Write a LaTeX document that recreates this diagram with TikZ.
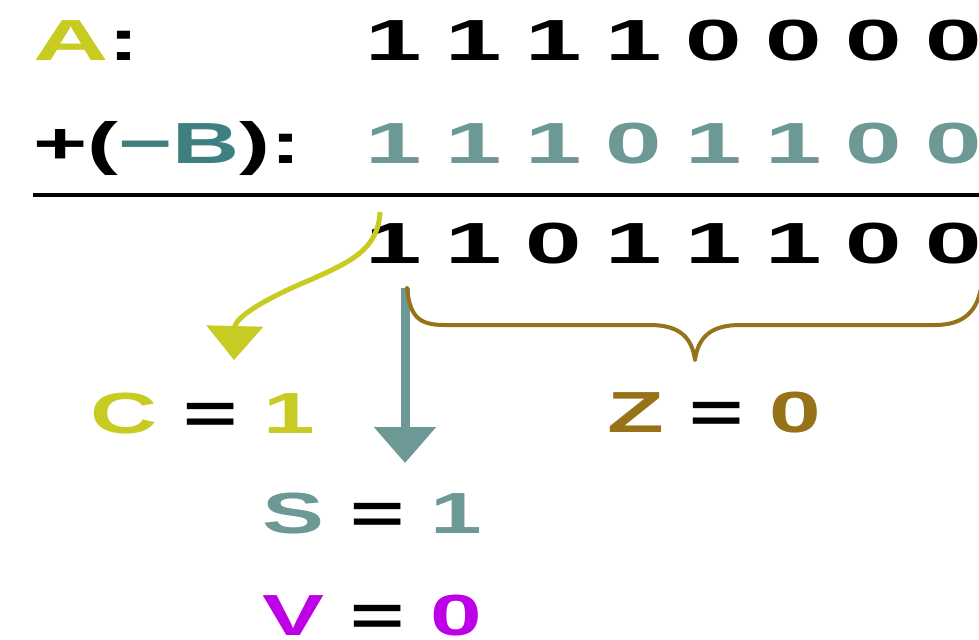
\documentclass[tikz,border=0pt]{standalone}
\usepackage{graphicx}
\usepackage{fontspec}
\setmainfont{Liberation Sans}
\usetikzlibrary{arrows.meta}
\definecolor{ygreen}{RGB}{200,204,34}
\definecolor{tealB}{RGB}{62,128,128}
\definecolor{tealD}{RGB}{108,152,150}
\definecolor{brownZ}{RGB}{150,115,25}
\definecolor{magV}{RGB}{190,0,230}
\newcommand{\wdig}[1]{\scalebox{1.75}[1]{#1}}
\newcommand{\wlab}[1]{\scalebox{1.6}[1]{#1}}
\begin{document}
\begin{tikzpicture}[x=0.5pt,y=-0.5pt,
  dig/.style={anchor=base,inner sep=0pt,font=\fontsize{29}{29}\selectfont\bfseries},
  lab/.style={anchor=base west,inner sep=0pt,font=\fontsize{29}{29}\selectfont\bfseries},
  rule/.style={line width=2pt,black},
  carry/.style={ygreen,line width=2.5pt,-{Triangle[width=28pt,length=17pt]}},
  sign/.style={tealD,line width=4.5pt,-{Triangle[width=30pt,length=18pt]}},
  zbrace/.style={brownZ,line width=2pt,line cap=round,line join=round}]
\useasboundingbox (0,0) rectangle (979,639);
\fill[white] (0,0) rectangle (979,639);
% labels of rows
\node[lab] (la) at (33,60) {\scalebox{1.8}[1]{\color{ygreen}A}\wlab{:}};
\node[lab] (lb) at (33,163) {\wlab{+({\color{tealB}−B}):}};
% digits
\foreach \d [count=\i from 0] in {1,1,1,1,0,0,0,0}
  \node[dig] (a\i) at (394+80*\i,60) {\wdig{\d}};
\foreach \d [count=\i from 0] in {1,1,1,0,1,1,0,0}
  \node[dig,text=tealD] (b\i) at (394+80*\i,163) {\wdig{\d}};
\foreach \d [count=\i from 0] in {1,1,0,1,1,1,0,0}
  \node[dig] (r\i) at (394+80*\i,263) {\wdig{\d}};
% sum rule
\coordinate (rl) at (33,195);
\coordinate (rr) at (985,195);
\draw[rule] (rl) -- (rr);
% flag labels
\node[lab] (cf) at (90,433) {\wlab{{\color{ygreen}C} = {\color{ygreen}1}}};
\node[lab] (zf) at (607,432) {\wlab{{\color{brownZ}Z} = {\color{brownZ}0}}};
\node[lab] (sf) at (262,533) {\wlab{{\color{tealD}S} = {\color{tealD}1}}};
\node[lab] (vf) at (262,635) {\wlab{{\color{magV}V} = {\color{magV}0}}};
% carry arrow
\coordinate (cs) at (380,212);
\coordinate (ce) at (234,360);
\draw[carry] (cs) .. controls (378,250) and (350,262) .. (310,280)
  .. controls (262,300) and (235,318) .. (ce);
% sign arrow
\coordinate (ss) at (405,288);
\coordinate (se) at (405,463);
\draw[sign] (ss) -- (se);
% zero brace
\coordinate (zl) at (407,288);
\coordinate (zr) at (981,288);
\coordinate (zt) at (695,360);
\draw[zbrace] (zl) .. controls (410,318) and (420,325) .. (445,325) -- (650,325)
  .. controls (680,325) and (692,338) .. (zt)
  .. controls (698,338) and (710,325) .. (740,325) -- (935,325)
  .. controls (965,325) and (977,310) .. (zr);
\end{tikzpicture}
\end{document}
